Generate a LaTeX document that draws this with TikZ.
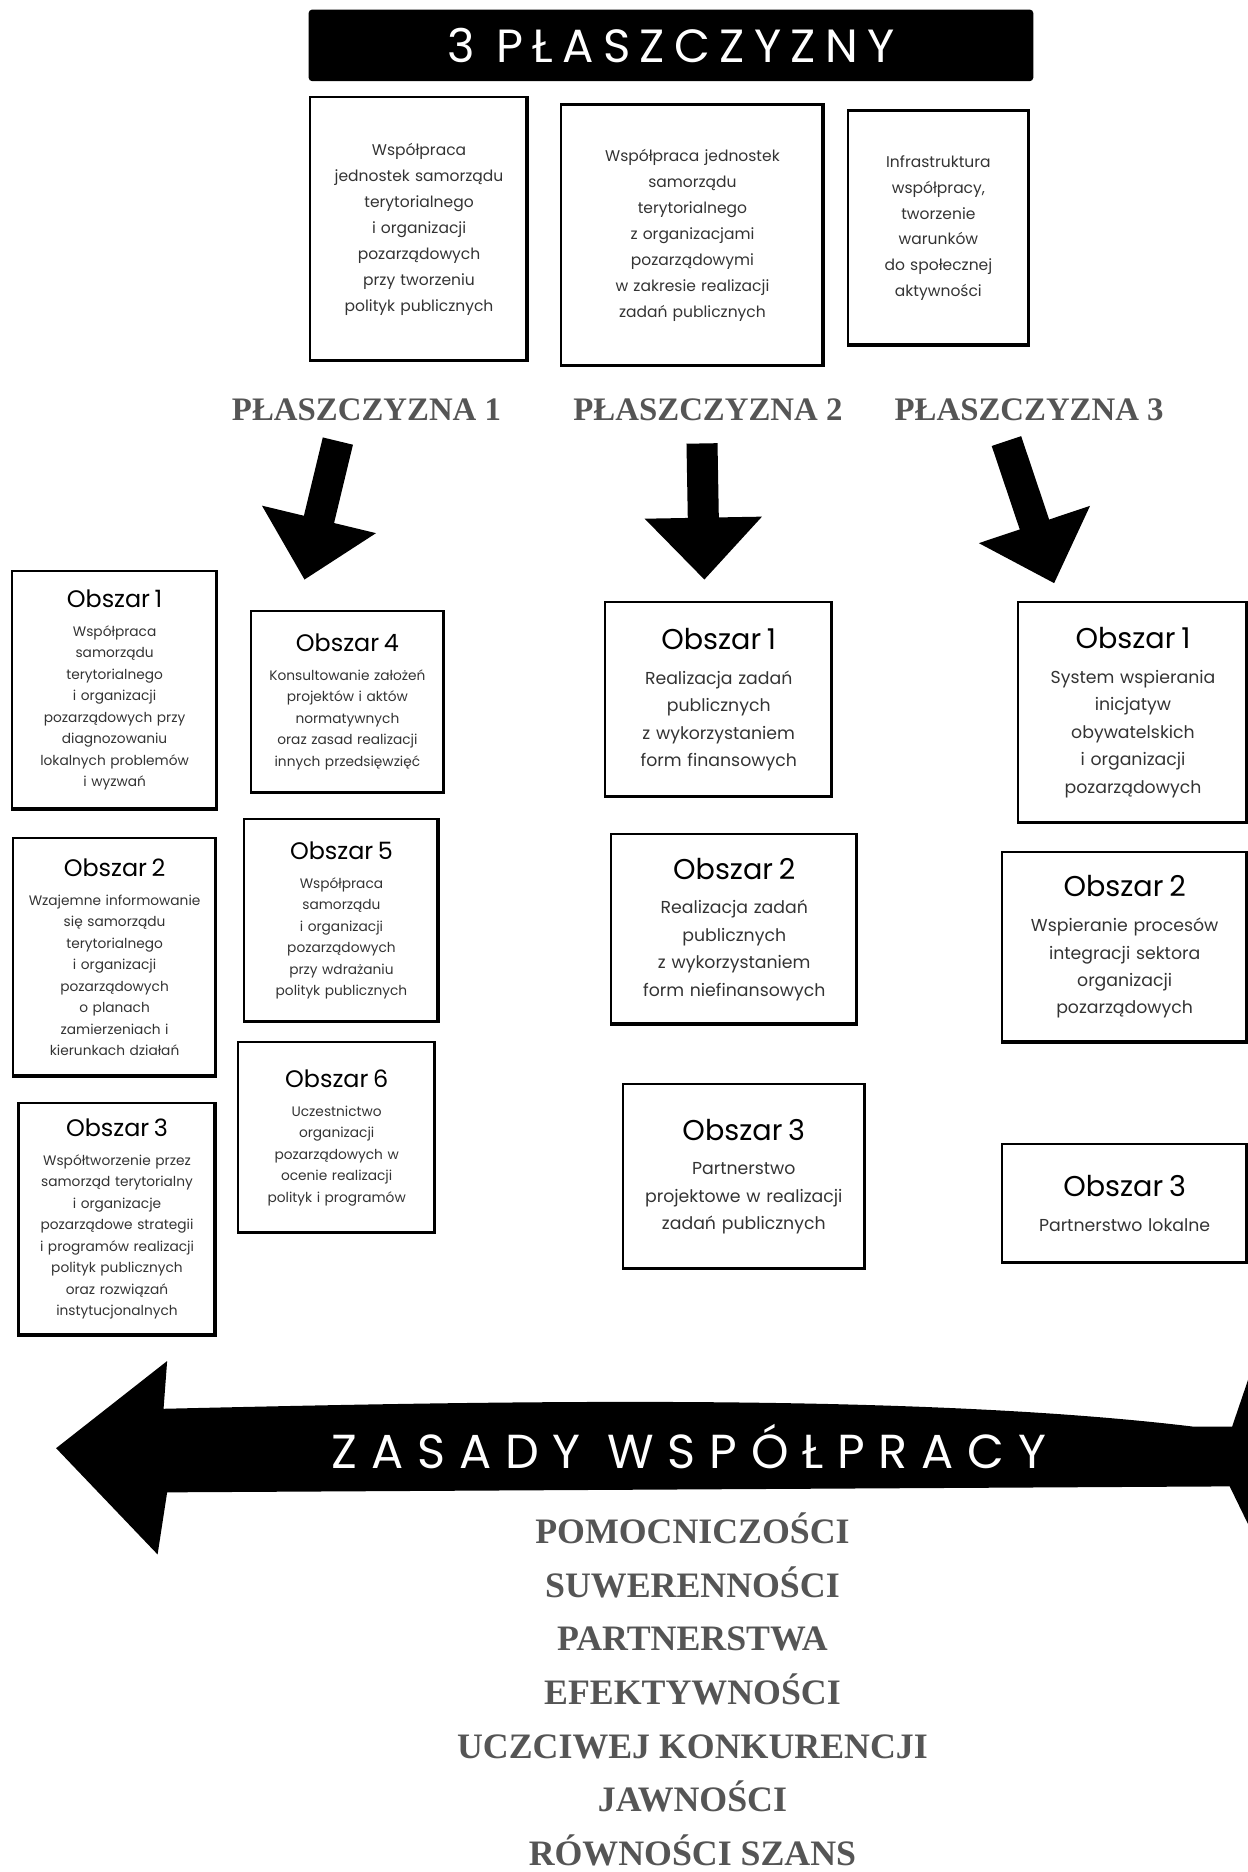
\documentclass[tikz,border=0pt]{standalone}
\usepackage{fontspec}
\setmainfont{Poppins}
\newfontfamily\barfont[LetterSpace=20]{Poppins}
\newfontfamily\arrowfont[LetterSpace=29]{Poppins}
\newfontfamily\serifcaps{Liberation Serif}
\usetikzlibrary{positioning,arrows.meta}
\definecolor{ink}{HTML}{333333}
\definecolor{rulegray}{HTML}{555555}
\newcommand{\obszar}[2][20]{{\color{black}\fontsize{#1}{#1}\selectfont Obszar #2}\\[6pt]}

\begin{document}
\begin{tikzpicture}[x=1pt,y=-1pt,
  box/.style={draw,line width=1.8pt,align=center,inner sep=4pt,text=ink,
    path picture={\draw[line width=4pt] (path picture bounding box.north east)
      -- (path picture bounding box.south east) -- (path picture bounding box.south west);}},
  tbox/.style={box,font=\fontsize{13}{21.7}\selectfont},
  lbox/.style={box,font=\fontsize{11.5}{18}\selectfont},
  mbox/.style={box,font=\fontsize{14.5}{23}\selectfont},
  plane/.style={font=\serifcaps\bfseries\fontsize{27.5}{27.5}\selectfont,text=rulegray,inner sep=2pt},
  rule/.style={font=\serifcaps\bfseries\fontsize{30}{30}\selectfont,text=rulegray,
    text height=21pt,text depth=3pt,inner sep=0pt,node distance=20.5pt},
  fatarrow/.style={line width=26pt,-{Triangle[length=52pt,width=95pt]}}]

  \useasboundingbox (0,0) rectangle (1045,1568);

  % naglowek
  \node[fill=black,rounded corners=3pt,minimum width=607pt,minimum height=60pt,
    text=white,font=\barfont\fontsize{39}{39}\selectfont] (title) at (562,38) {3 PŁASZCZYZNY};

  \node[tbox,minimum width=182pt,minimum height=221pt,text width=172pt] (t1) at (351,192)
    {Współpraca\\ jednostek samorządu\\ terytorialnego\\ i organizacji\\ pozarządowych\\ przy tworzeniu\\ polityk publicznych};
  \node[tbox,minimum width=220pt,minimum height=219pt,text width=210pt] (t2) at (580,197)
    {Współpraca jednostek\\ samorządu\\ terytorialnego\\ z organizacjami\\ pozarządowymi\\ w zakresie realizacji\\ zadań publicznych};
  \node[tbox,minimum width=152pt,minimum height=197pt,text width=142pt] (t3) at (786,191)
    {Infrastruktura\\ współpracy,\\ tworzenie\\ warunków\\ do społecznej\\ aktywności};

  \node[plane] (p1) at (307,343) {PŁASZCZYZNA 1};
  \node[plane] (p2) at (593,343) {PŁASZCZYZNA 2};
  \node[plane] (p3) at (862,343) {PŁASZCZYZNA 3};

  % plaszczyzna 1
  \node[lbox,minimum width=172pt,minimum height=200pt,text width=162pt] (l1) at (96,578)
    {\obszar{1}Współpraca\\ samorządu\\ terytorialnego\\ i organizacji\\ pozarządowych przy\\ diagnozowaniu\\ lokalnych problemów\\ i wyzwań};
  \node[lbox,minimum width=170pt,minimum height=200pt,text width=162pt,below=22pt of l1] (l2)
    {\obszar{2}Wzajemne informowanie\\ się samorządu\\ terytorialnego\\ i organizacji\\ pozarządowych\\ o planach\\ zamierzeniach i\\ kierunkach działań};
  \node[lbox,minimum width=165pt,minimum height=195pt,text width=157pt,below=20pt of l2,xshift=2pt] (l3)
    {\obszar{3}Współtworzenie przez\\ samorząd terytorialny\\ i organizacje\\ pozarządowe strategii\\ i programów realizacji\\ polityk publicznych\\ oraz rozwiązań\\ instytucjonalnych};
  \node[lbox,minimum width=162pt,minimum height=153pt,text width=154pt] (l4) at (291,588)
    {\obszar{4}Konsultowanie założeń\\ projektów i aktów\\ normatywnych\\ oraz zasad realizacji\\ innych przedsięwzięć};
  \node[lbox,minimum width=163pt,minimum height=170pt,text width=155pt,below=20pt of l4,xshift=-5pt] (l5)
    {\obszar{5}Współpraca\\ samorządu\\ i organizacji\\ pozarządowych\\ przy wdrażaniu\\ polityk publicznych};
  \node[lbox,minimum width=165pt,minimum height=160pt,text width=157pt,below=15pt of l5,xshift=-4pt] (l6)
    {\obszar{6}Uczestnictwo\\ organizacji\\ pozarządowych w\\ ocenie realizacji\\ polityk i programów};

  % plaszczyzna 2
  \node[mbox,minimum width=190pt,minimum height=163pt,text width=182pt] (m1) at (602,586)
    {\obszar[24]{1}Realizacja zadań\\ publicznych\\ z wykorzystaniem\\ form finansowych};
  \node[mbox,minimum width=206pt,minimum height=160pt,text width=198pt,below=29pt of m1,xshift=13pt] (m2)
    {\obszar[24]{2}Realizacja zadań\\ publicznych\\ z wykorzystaniem\\ form niefinansowych};
  \node[mbox,minimum width=203pt,minimum height=155pt,text width=195pt,below=48pt of m2,xshift=8pt] (m3)
    {\obszar[24]{3}Partnerstwo\\ projektowe w realizacji\\ zadań publicznych};

  % plaszczyzna 3
  \node[mbox,minimum width=192pt,minimum height=185pt,text width=184pt] (r1) at (949,597)
    {\obszar[24]{1}System wspierania\\ inicjatyw\\ obywatelskich\\ i organizacji\\ pozarządowych};
  \node[mbox,minimum width=205pt,minimum height=160pt,text width=197pt,below=22pt of r1,xshift=-7pt] (r2)
    {\obszar[24]{2}Wspieranie procesów\\ integracji sektora\\ organizacji\\ pozarządowych};
  \node[mbox,minimum width=205pt,minimum height=100pt,text width=197pt,below=83pt of r2] (r3)
    {\obszar[24]{3}Partnerstwo lokalne};

  \draw[fatarrow] ([xshift=-24pt,yshift=-15pt]p1.south) -- ([xshift=-36pt,yshift=25pt]l4.north);
  \draw[fatarrow] ([xshift=-5pt,yshift=-17pt]p2.south) -- ([xshift=-12pt,yshift=18pt]m1.north);
  \draw[fatarrow] ([xshift=-19pt,yshift=-15pt]p3.south) -- ([xshift=-66pt,yshift=15pt]r1.north);

  % zasady
  \fill (47,1213) -- (140,1140) -- (137,1180) .. controls (400,1174) and (760,1166) .. (1000,1195)
    -- (1032,1195) -- (1048,1148) -- (1130,1215) -- (1048,1282) -- (1030,1245)
    -- (140,1250) -- (132,1302) -- cycle;
  \node[text=white,font=\arrowfont\fontsize{40}{40}\selectfont] (zasady) at (577,1212) {ZASADY WSPÓŁPRACY};

  \node[rule] (z1) at (580,1284) {POMOCNICZOŚCI};
  \node[rule,below=of z1] (z2) {SUWERENNOŚCI};
  \node[rule,below=of z2] (z3) {PARTNERSTWA};
  \node[rule,below=of z3] (z4) {EFEKTYWNOŚCI};
  \node[rule,below=of z4] (z5) {UCZCIWEJ KONKURENCJI};
  \node[rule,below=of z5] (z6) {JAWNOŚCI};
  \node[rule,below=of z6] (z7) {RÓWNOŚCI SZANS};
\end{tikzpicture}
\end{document}
